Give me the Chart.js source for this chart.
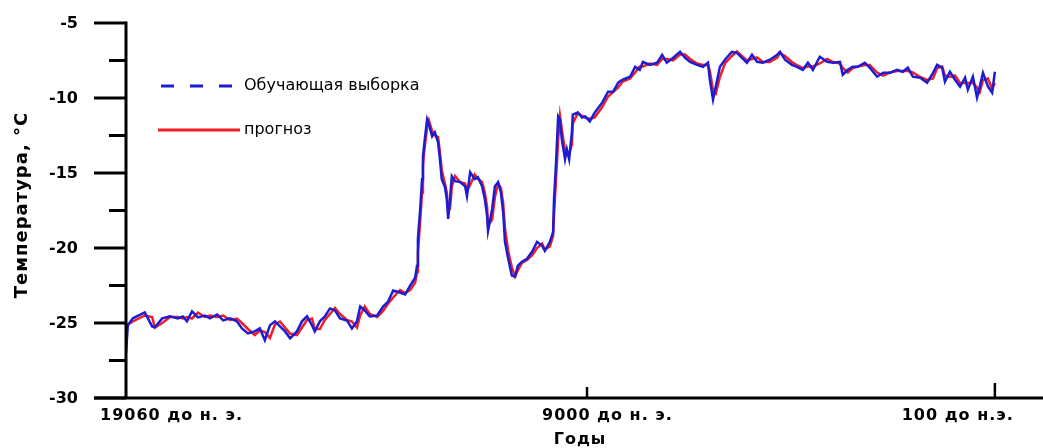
<!DOCTYPE html>
<html>
<head>
<meta charset="utf-8">
<script src="https://cdn.jsdelivr.net/npm/chart.js@4/dist/chart.umd.min.js"></script>
<style>
  html, body { margin: 0; padding: 0; background: #ffffff; }
  #wrap { width: 1043px; height: 448px; }
</style>
</head>
<body>
<div id="wrap"><canvas id="tempChart" width="1043" height="448"></canvas></div>
<script>
// Годы (отрицательные = до н. э.)
const years = [
    -19060, -19020, -18910, -18650, -18490, -18430, -18270, -18100, -17930, -17820,
    -17730, -17620, -17490, -17340, -17230, -17070, -16940, -16790, -16640, -16530,
    -16400, -16250, -16140, -16030, -15920, -15810, -15700, -15590, -15480, -15330,
    -15220, -15110, -15000, -14940, -14830, -14720, -14610, -14500, -14390, -14240,
    -14130, -14020, -13950, -13850, -13740, -13580, -13450, -13340, -13230, -13080,
    -12970, -12860, -12750, -12710, -12690, -12640, -12600, -12580, -12540, -12490,
    -12450, -12380, -12320, -12250, -12210, -12170, -12100, -12060, -12030, -11990,
    -11950, -11880, -11770, -11660, -11620, -11550, -11450, -11380, -11290, -11230,
    -11180, -11160, -11070, -11010, -10940, -10880, -10830, -10790, -10720, -10640,
    -10570, -10510, -10420, -10310, -10200, -10090, -9980, -9920, -9810, -9740,
    -9720, -9680, -9630, -9590, -9550, -9480, -9440, -9390, -9330, -9310,
    -9200, -9110, -9040, -8940, -8830, -8670, -8540, -8430, -8320, -8220,
    -8060, -7950, -7850, -7780, -7630, -7470, -7360, -7260, -7120, -6970,
    -6860, -6750, -6600, -6470, -6360, -6320, -6250, -6190, -6100, -5990,
    -5840, -5730, -5620, -5510, -5400, -5290, -5160, -5010, -4850, -4790,
    -4680, -4530, -4420, -4290, -4180, -4070, -3920, -3760, -3630, -3480,
    -3420, -3310, -3200, -3090, -2940, -2830, -2670, -2540, -2390, -2240,
    -2110, -2000, -1890, -1730, -1580, -1450, -1360, -1250, -1190, -1080,
    -970, -860, -750, -690, -580, -490, -430, -360, -250, -160,
    -100
];

// Обучающая выборка, °C
const trainTemps = [
    -27.0, -25.16, -24.69, -24.30, -25.23, -25.29, -24.69, -24.56, -24.69, -24.56,
    -24.89, -24.23, -24.63, -24.50, -24.69, -24.43, -24.83, -24.69, -24.89, -25.36,
    -25.69, -25.56, -25.36, -26.15, -25.16, -24.89, -25.23, -25.56, -26.02, -25.56,
    -24.89, -24.56, -25.16, -25.56, -24.89, -24.56, -24.03, -24.16, -24.69, -24.83,
    -25.36, -24.89, -23.90, -24.16, -24.56, -24.50, -23.90, -23.57, -22.84, -22.97,
    -23.10, -22.51, -21.98, -21.18, -19.39, -17.40, -15.41, -13.89, -12.76, -11.43,
    -11.76, -12.56, -12.29, -12.96, -14.08, -15.41, -15.94, -16.74, -18.06, -16.74,
    -15.21, -15.54, -15.61, -15.88, -16.54, -14.95, -15.41, -15.28, -15.88, -16.74,
    -17.86, -18.86, -17.40, -15.88, -15.61, -16.27, -17.60, -19.59, -20.72, -21.84,
    -21.91, -21.18, -20.92, -20.72, -20.25, -19.59, -19.85, -20.19, -19.59, -18.93,
    -16.74, -14.55, -11.23, -11.43, -12.76, -14.08, -13.42, -14.08, -12.29, -11.10,
    -10.97, -11.30, -11.23, -11.56, -10.97, -10.31, -9.58, -9.58, -8.98, -8.78,
    -8.58, -7.92, -8.12, -7.59, -7.79, -7.65, -7.12, -7.65, -7.32, -6.92,
    -7.32, -7.59, -7.79, -7.92, -7.65, -8.78, -10.11, -9.24, -7.92, -7.45,
    -6.92, -6.99, -7.32, -7.65, -7.12, -7.59, -7.65, -7.45, -7.12, -6.92,
    -7.45, -7.79, -7.92, -8.12, -7.65, -8.12, -7.25, -7.59, -7.65, -7.59,
    -8.45, -8.12, -7.92, -7.92, -7.65, -7.98, -8.58, -8.32, -8.32, -8.12,
    -8.25, -7.98, -8.58, -8.65, -8.98, -8.32, -7.79, -7.98, -8.91, -8.25,
    -8.78, -9.24, -8.65, -9.44, -8.58, -9.97, -9.24, -8.32, -9.24, -9.64,
    -8.25
];

// Прогноз, °C (слегка запаздывает за выборкой)
const forecastTemps = [
    -25.3, -25.1, -24.9, -24.5, -24.6, -25.3, -25.0, -24.6, -24.6, -24.7,
    -24.6, -24.7, -24.3, -24.6, -24.5, -24.6, -24.5, -24.8, -24.7, -25.0,
    -25.4, -25.8, -25.5, -25.6, -26.0, -25.1, -24.9, -25.3, -25.7, -25.8,
    -25.3, -24.8, -24.7, -25.4, -25.4, -24.8, -24.4, -24.0, -24.4, -24.8,
    -24.9, -25.3, -24.5, -23.9, -24.4, -24.6, -24.2, -23.7, -23.3, -22.8,
    -23.0, -22.8, -22.3, -21.6, -20.3, -18.2, -16.3, -14.5, -13.2, -12.0,
    -11.5, -12.2, -12.5, -12.6, -13.6, -14.8, -15.7, -16.3, -17.5, -17.4,
    -15.9, -15.2, -15.6, -15.7, -16.2, -15.8, -15.1, -15.4, -15.6, -16.3,
    -17.3, -18.5, -18.1, -16.6, -15.7, -16.0, -17.0, -18.7, -20.2, -21.3,
    -21.9, -21.5, -21.0, -20.8, -20.5, -20.0, -19.7, -20.1, -19.9, -19.2,
    -17.8, -15.6, -12.8, -11.2, -12.1, -13.5, -13.8, -13.7, -13.1, -11.7,
    -11.0, -11.2, -11.3, -11.4, -11.3, -10.6, -9.9, -9.6, -9.3, -8.9,
    -8.7, -8.3, -7.9, -7.9, -7.7, -7.8, -7.4, -7.4, -7.5, -7.1,
    -7.1, -7.4, -7.7, -7.8, -7.8, -8.2, -9.5, -9.7, -8.6, -7.7,
    -7.2, -6.9, -7.2, -7.5, -7.4, -7.3, -7.6, -7.6, -7.3, -7.0,
    -7.2, -7.6, -7.8, -8.0, -7.9, -7.9, -7.7, -7.4, -7.6, -7.7,
    -8.0, -8.3, -8.0, -7.9, -7.8, -7.8, -8.3, -8.5, -8.3, -8.2,
    -8.2, -8.2, -8.3, -8.6, -8.8, -8.7, -8.0, -7.9, -8.5, -8.6,
    -8.5, -9.0, -9.0, -9.0, -9.0, -9.3, -9.6, -8.8, -8.7, -9.4,
    -9.0
];

// Деления осей
const yMajorTicks = [-30, -25, -20, -15, -10, -5];
const yMinorTicks = [-27.5, -22.5, -17.5, -12.5, -7.5];
const xTicks = [-19060, -9000, -100];
const xTickLabels = ['19060 до н. э.', '9000 до н. э.', '100 до н.э.'];

const seriesNames = ['Обучающая выборка', 'прогноз'];
const BLUE = '#1c1cd2';
const RED = '#ee1d27';
const BOLD = "bold 16px 'DejaVu Sans', sans-serif";

function toPoints(values) {
    return years.map((yr, i) => ({ x: yr, y: values[i] }));
}

/**
 * Оси в стиле научного графика: толстые линии, внешние деления по Y,
 * внутренние по X, подписи и легенда внутри поля
 */
const axesPlugin = {
    id: 'axesPlugin',
    afterDraw(chart) {
        const { ctx, chartArea } = chart;
        const xs = chart.scales.x, ys = chart.scales.y;
        const ax = xs.getPixelForValue(xTicks[0]);
        const ay = ys.getPixelForValue(-30);

        ctx.save();
        ctx.strokeStyle = '#000';
        ctx.fillStyle = '#000';
        ctx.lineCap = 'butt';

        // ось Y
        ctx.lineWidth = 3;
        ctx.beginPath();
        ctx.moveTo(ax, ys.getPixelForValue(-5) - 1.5);
        ctx.lineTo(ax, ay);
        ctx.stroke();

        // ось X (начинается от большого деления -30)
        ctx.beginPath();
        ctx.moveTo(ax - 32, ay);
        ctx.lineTo(chartArea.right, ay);
        ctx.stroke();

        // деления Y
        yMajorTicks.forEach(v => {
            const py = ys.getPixelForValue(v);
            ctx.beginPath();
            ctx.moveTo(ax - 32, py);
            ctx.lineTo(ax, py);
            ctx.stroke();
        });
        yMinorTicks.forEach(v => {
            const py = ys.getPixelForValue(v);
            ctx.beginPath();
            ctx.moveTo(ax - 17, py);
            ctx.lineTo(ax, py);
            ctx.stroke();
        });

        // деления X (внутрь)
        ctx.lineWidth = 2.5;
        xTicks.slice(1).forEach((v, i) => {
            const px = xs.getPixelForValue(v);
            ctx.beginPath();
            ctx.moveTo(px, ay);
            ctx.lineTo(px, ay - (i === 0 ? 11 : 15));
            ctx.stroke();
        });

        // подписи Y
        ctx.font = BOLD;
        ctx.textAlign = 'right';
        ctx.textBaseline = 'middle';
        yMajorTicks.forEach(v => {
            ctx.fillText(String(v), ax - 48, ys.getPixelForValue(v) + 1);
        });

        // подписи X
        const xLabelShift = [-26, -45, 19];
        const xLabelAlign = ['left', 'left', 'right'];
        ctx.letterSpacing = '1px';
        xTicks.forEach((v, i) => {
            ctx.textAlign = xLabelAlign[i];
            ctx.fillText(xTickLabels[i], xs.getPixelForValue(v) + xLabelShift[i], ay + 18);
        });

        // названия осей
        ctx.textAlign = 'center';
        ctx.fillText('Годы', 580, ay + 42);
        ctx.save();
        ctx.font = "bold 18px 'DejaVu Sans', sans-serif";
        ctx.translate(22, 205);
        ctx.rotate(-Math.PI / 2);
        ctx.fillText('Температура, °C', 0, 0);
        ctx.restore();
        ctx.letterSpacing = '0px';

        // легенда
        ctx.lineWidth = 3;
        ctx.strokeStyle = BLUE;
        ctx.setLineDash([13, 16]);
        ctx.beginPath();
        ctx.moveTo(161, 86);
        ctx.lineTo(240, 86);
        ctx.stroke();
        ctx.setLineDash([]);
        ctx.strokeStyle = RED;
        ctx.beginPath();
        ctx.moveTo(158, 130);
        ctx.lineTo(240, 130);
        ctx.stroke();

        ctx.font = "16px 'DejaVu Sans', sans-serif";
        ctx.textAlign = 'left';
        ctx.fillText(seriesNames[0], 244, 86);
        ctx.fillText(seriesNames[1], 244, 130);
        ctx.restore();
    }
};

function drawTempChart() {
    const ctx = document.getElementById('tempChart').getContext('2d');
    return new Chart(ctx, {
        type: 'line',
        data: {
            datasets: [{
                label: seriesNames[0],
                data: toPoints(trainTemps),
                borderColor: BLUE,
                borderWidth: 2.5,
                pointRadius: 0,
                tension: 0,
                order: 1
            }, {
                label: seriesNames[1],
                data: toPoints(forecastTemps),
                borderColor: RED,
                borderWidth: 2.5,
                pointRadius: 0,
                tension: 0,
                order: 2
            }]
        },
        options: {
            responsive: false,
            animation: false,
            layout: { padding: { left: 126, top: 23, right: 0, bottom: 50 } },
            plugins: {
                legend: { display: false },
                tooltip: { enabled: false }
            },
            scales: {
                x: { type: 'linear', display: false, min: -19060, max: 950 },
                y: { type: 'linear', display: false, min: -30, max: -5 }
            }
        },
        plugins: [axesPlugin]
    });
}

drawTempChart();
</script>
</body>
</html>
